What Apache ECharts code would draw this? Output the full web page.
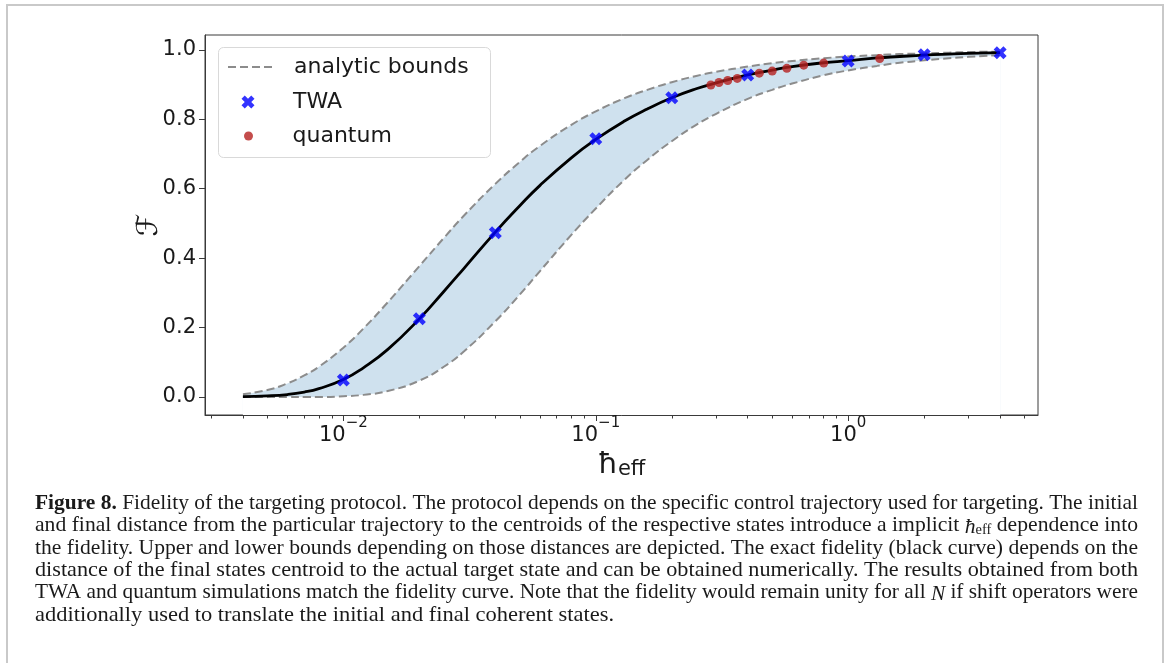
<!DOCTYPE html>
<html><head><meta charset="utf-8">
<script src="https://cdn.jsdelivr.net/npm/echarts@6/dist/echarts.min.js"></script>
<style>html,body{margin:0;padding:0;background:#fff;}#c{width:1170px;height:663px;}</style>
</head><body><div id="c"></div>
<script>
// ---------------- data ----------------
const hbarGrid = [0.004,0.005,0.006,0.007,0.008,0.01,0.012,0.015,0.02,0.025,0.03,0.04,0.05,0.06,0.08,0.1,0.13,0.16,0.2,0.25,0.3,0.4,0.5,0.6,0.8,1.0,1.3,1.6,2.0,2.5,3.0,4.0];
const fidelityExact = [0.001,0.003,0.007,0.014,0.024,0.050,0.084,0.137,0.225,0.304,0.370,0.475,0.551,0.609,0.689,0.742,0.795,0.830,0.862,0.888,0.905,0.928,0.942,0.952,0.963,0.969,0.977,0.981,0.985,0.988,0.990,0.992];
const boundUpper = [0.008,0.020,0.039,0.062,0.087,0.142,0.197,0.273,0.377,0.458,0.522,0.614,0.677,0.723,0.784,0.823,0.861,0.885,0.907,0.925,0.937,0.952,0.962,0.968,0.976,0.981,0.985,0.988,0.990,0.992,0.994,0.995];
const boundLower = [0.000,0.000,0.000,0.000,0.000,0.002,0.006,0.017,0.047,0.087,0.131,0.218,0.295,0.362,0.467,0.543,0.626,0.683,0.737,0.784,0.816,0.859,0.885,0.903,0.927,0.941,0.954,0.963,0.970,0.976,0.980,0.985];
const twaHbar = [0.01,0.02,0.04,0.1,0.2,0.4,1,2,4];
const twaF = [0.049,0.225,0.473,0.744,0.862,0.928,0.968,0.986,0.992];
const quantumHbar = [0.2857,0.3077,0.3333,0.3636,0.4444,0.5,0.5714,0.6667,0.8,1.3333];
const quantumF = [0.899,0.906,0.912,0.918,0.933,0.939,0.947,0.956,0.962,0.975];
const xMajorTicks = [0.01,0.1,1];
const xMinorTicks = [0.003,0.004,0.005,0.006,0.007,0.008,0.009,0.02,0.03,0.04,0.05,0.06,0.07,0.08,0.09,0.2,0.3,0.4,0.5,0.6,0.7,0.8,0.9,2,3,4,5];
const yTicks = [0,0.2,0.4,0.6,0.8,1.0];
const xRange = [0.002830, 5.65];
const yRange = [-0.052, 1.043];
const legendNames = ['analytic bounds','TWA','quantum'];
const captionLines = [
  '{b|Figure} {b|8.} Fidelity of the targeting protocol. The protocol depends on the specific control trajectory used for targeting. The initial',
  'and final distance from the particular trajectory to the centroids of the respective states introduce a implicit {i|ħ}{s|eff} dependence into',
  'the fidelity. Upper and lower bounds depending on those distances are depicted. The exact fidelity (black curve) depends on the',
  'distance of the final states centroid to the actual target state and can be obtained numerically. The results obtained from both',
  'TWA and quantum simulations match the fidelity curve. Note that the fidelity would remain unity for all {i|N} if shift operators were',
  'additionally used to translate the initial and final coherent states.'
];

// ---------------- helpers ----------------
const L = v => Math.log10(v);
const pairs = (xs, ys) => xs.map((x, i) => [L(x), ys[i]]);
const SANS = 'DejaVu Sans';
const SERIF = 'Liberation Serif';
const X_PATH = 'path://M1 0L2 1L3 0L4 1L3 2L4 3L3 4L2 3L1 4L0 3L1 2L0 1Z';
const supMap = v => { const e = Math.round(v); return '{b|10}{sup|' + (e < 0 ? '\u2212' + (-e) : String(e)) + '}'; };

// ---------------- caption layout (full-width lines, last line ragged) ----------------
const capSize = 21, capLeft = 35, capRight = 1138, capTop = 503.5, capStep = 22.3, lastLineScale = 1.07;
const ctx = document.createElement('canvas').getContext('2d');
const fontFor = k => {
  if (k === 'b') return 'bold ' + capSize + 'px "' + SERIF + '"';
  if (k === 'i') return 'italic ' + capSize + 'px "' + SERIF + '"';
  if (k === 's') return Math.round(capSize * 0.68) + 'px "' + SERIF + '"';
  return capSize + 'px "' + SERIF + '"';
};
function segs(word) {
  const out = []; const re = /\{(\w+)\|([^}]*)\}|([^{]+)/g; let m;
  while ((m = re.exec(word))) out.push(m[3] !== undefined ? { k: null, t: m[3] } : { k: m[1], t: m[2] });
  return out;
}
function wordWidth(word) {
  return segs(word).reduce((s, g) => { ctx.font = fontFor(g.k); return s + ctx.measureText(g.t).width; }, 0);
}
const capRich = {
  b: { fontWeight: 'bold', fontSize: capSize, fontFamily: SERIF, fill: '#1a1a1a' },
  i: { fontStyle: 'italic', fontSize: capSize, fontFamily: SERIF, fill: '#1a1a1a', lineHeight: 24, verticalAlign: 'bottom' },
  s: { fontSize: Math.round(capSize * 0.68), fontFamily: SERIF, fill: '#1a1a1a', lineHeight: 14, verticalAlign: 'bottom' }
};
ctx.font = fontFor(null);
const spaceW = ctx.measureText(' ').width;
const lineInfo = captionLines.map(line => {
  const words = line.split(' ');
  const widths = words.map(wordWidth);
  const natural = widths.reduce((a, b) => a + b, 0) + spaceW * (words.length - 1);
  return { words, widths, natural };
});
const captionGraphics = [];
lineInfo.forEach((li, idx) => {
  const last = idx === lineInfo.length - 1;
  const s = last ? lastLineScale : (capRight - capLeft) / li.natural;
  let x = capLeft;
  li.words.forEach((w, wi) => {
    captionGraphics.push({
      type: 'text', x: x, y: capTop + idx * capStep, scaleX: s, silent: true,
      style: { text: w, fontFamily: SERIF, fontSize: capSize, fill: '#1a1a1a', verticalAlign: 'middle', align: 'left', rich: capRich }
    });
    x += (li.widths[wi] + spaceW) * s;
  });
});

// ---------------- chart ----------------
const chart = echarts.init(document.getElementById('c'), null, { renderer: 'canvas' });
const axisColor = '#3a3a3a';
const labelColor = '#1a1a1a';
const legendText = pad => ({ fontFamily: SANS, fontSize: 22, color: labelColor, lineHeight: 26, padding: [0, 0, 0, pad] });
const smooth = 0.5;

const option = {
  backgroundColor: '#ffffff',
  animation: false,
  grid: { left: 205, top: 35, width: 833, height: 380, show: true, borderColor: axisColor, borderWidth: 1, backgroundColor: 'transparent' },
  xAxis: [
    {
      type: 'value', min: L(xRange[0]), max: L(xRange[1]), z: 6,
      axisLine: { show: true, onZero: false, lineStyle: { color: axisColor } },
      axisTick: { show: true, customValues: xMajorTicks.map(L), length: 6, lineStyle: { color: axisColor } },
      axisLabel: {
        customValues: xMajorTicks.map(L), formatter: supMap, margin: 1, color: labelColor,
        rich: {
          b: { fontFamily: SANS, fontSize: 21, lineHeight: 30, verticalAlign: 'bottom', color: labelColor },
          sup: { fontFamily: SANS, fontSize: 15, lineHeight: 15, verticalAlign: 'top', color: labelColor }
        }
      },
      splitLine: { show: false },
      name: '{h|ħ}{s|eff}', nameLocation: 'middle', nameGap: 30,
      nameTextStyle: {
        rich: {
          h: { fontFamily: SANS, fontSize: 29, lineHeight: 34, verticalAlign: 'bottom', color: labelColor },
          s: { fontFamily: SANS, fontSize: 21, lineHeight: 18, verticalAlign: 'bottom', color: labelColor }
        }
      }
    },
    {
      type: 'value', min: L(xRange[0]), max: L(xRange[1]), position: 'bottom', z: 6,
      axisLine: { show: false, onZero: false },
      axisTick: { show: true, customValues: xMinorTicks.map(L), length: 3.5, lineStyle: { color: axisColor } },
      axisLabel: { show: false }, splitLine: { show: false }
    }
  ],
  yAxis: {
    type: 'value', min: yRange[0], max: yRange[1], z: 6,
    axisLine: { show: true, onZero: false, lineStyle: { color: axisColor } },
    axisTick: { show: true, customValues: yTicks, length: 6, lineStyle: { color: axisColor } },
    axisLabel: { customValues: yTicks, formatter: v => v.toFixed(1), margin: 9, color: labelColor, fontFamily: SANS, fontSize: 21 },
    splitLine: { show: false },
    name: 'ℱ', nameLocation: 'middle', nameGap: 41, nameRotate: 90, nameMoveOverlap: false,
    nameTextStyle: { fontFamily: SANS, fontSize: 29, color: labelColor }
  },
  legend: [
    { data: [legendNames[0]], orient: 'vertical', left: 227, top: 54, itemWidth: 48, itemHeight: 14, padding: 0, selectedMode: false, itemStyle: { opacity: 0 }, textStyle: legendText(13) },
    { data: [legendNames[1]], orient: 'vertical', left: 241.5, top: 89, itemWidth: 46, itemHeight: 13, padding: 0, selectedMode: false, textStyle: legendText(17) },
    { data: [legendNames[2]], orient: 'vertical', left: 244, top: 123, itemWidth: 44, itemHeight: 9, padding: 0, selectedMode: false, textStyle: legendText(17) }
  ],
  graphic: [
    { type: 'rect', z: 3, silent: true, shape: { x: 7, y: 5, width: 1156, height: 700 }, style: { fill: 'none', stroke: '#c9c9c9', lineWidth: 2 } },
    { type: 'rect', z: 3, silent: true, shape: { x: 218.5, y: 47.5, width: 272, height: 110, r: 5 }, style: { fill: 'rgba(255,255,255,0.85)', stroke: '#d9d9d9', lineWidth: 1 } }
  ].concat(captionGraphics),
  series: [
    { name: 'bandUpper', type: 'line', data: pairs(hbarGrid, boundUpper), symbol: 'none', smooth: smooth, lineStyle: { opacity: 0 }, areaStyle: { color: '#cfe1ee', opacity: 1, origin: 'start' }, silent: true, z: 1 },
    { name: 'bandLowerMask', type: 'line', data: pairs(hbarGrid, boundLower), symbol: 'none', smooth: smooth, lineStyle: { opacity: 0 }, areaStyle: { color: '#ffffff', opacity: 1, origin: 'start' }, silent: true, z: 1 },
    { name: legendNames[0], type: 'line', data: pairs(hbarGrid, boundUpper), symbol: 'none', smooth: smooth, lineStyle: { color: '#8c8c8c', width: 2, type: [8, 4] }, z: 2 },
    { name: legendNames[0], type: 'line', data: pairs(hbarGrid, boundLower), symbol: 'none', smooth: smooth, lineStyle: { color: '#8c8c8c', width: 2, type: [8, 4] }, z: 2 },
    { name: 'exact', type: 'line', data: pairs(hbarGrid, fidelityExact), symbol: 'none', smooth: smooth, lineStyle: { color: '#000000', width: 2.8 }, z: 3 },
    { name: legendNames[2], type: 'scatter', data: pairs(quantumHbar, quantumF), symbol: 'circle', symbolSize: 9, itemStyle: { color: '#b5201f' }, z: 4 },
    { name: legendNames[1], type: 'scatter', data: pairs(twaHbar, twaF), symbol: X_PATH, symbolSize: 13, symbolKeepAspect: true, itemStyle: { color: '#0000ff' }, z: 5 }
  ]
};
chart.setOption(option);
</script>
</body></html>
